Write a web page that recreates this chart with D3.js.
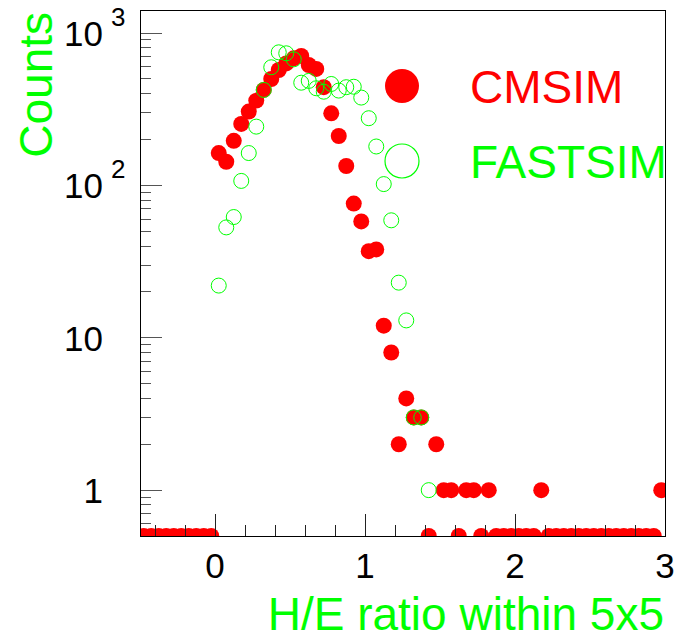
<!DOCTYPE html>
<html>
<head>
<meta charset="utf-8">
<script src="https://cdn.jsdelivr.net/npm/d3@7"></script>
<style>
  body { margin: 0; background: #fff; }
  text { font-family: "Liberation Sans", Arial, sans-serif; }
</style>
</head>
<body>
<script>
// histogram: 70 bins of 0.05 from -0.5 to 3.0
const binLow = -0.5;
const binWidth = 0.05;
const cmsimCounts = [
    0, 0, 0, 0, 0, 0, 0, 0, 0, 0,
    163, 143, 196, 253, 305, 360, 423, 499, 572, 632,
    682, 707, 617, 581, 441, 297, 211, 134, 76, 58,
    37, 38, 12, 8, 2, 4, 3, 3, 0, 2,
    1, 1, 0, 1, 1, 0, 1, 0, 0, 0,
    0, 0, 0, 1, 0, 0, 0, 0, 0, 0,
    0, 0, 0, 0, 0, 0, 0, 0, 0, 1
];
const fastsimCounts = [
    0, 0, 0, 0, 0, 0, 0, 0, 0, 0,
    22, 53, 62, 107, 163, 243, 423, 596, 747, 736,
    672, 472, 485, 434, 412, 463, 419, 441, 444, 377,
    276, 180, 102, 59, 23, 13, 3, 3, 1, 0,
    0, 0, 0, 0, 0, 0, 0, 0, 0, 0,
    0, 0, 0, 0, 0, 0, 0, 0, 0, 0,
    0, 0, 0, 0, 0, 0, 0, 0, 0, 0
];
const xMajorTicks = [0, 1, 2, 3];
const yMajorTicks = [1, 10, 100, 1000];
const yTickLabels = [["1", ""], ["10", ""], ["10", "2"], ["10", "3"]];
const seriesNames = ["CMSIM", "FASTSIM"];

const padL = 140, padR = 665, padT = 10, padB = 536;

let svg = d3.select("body")
    .append("svg")
    .attr("width", 683)
    .attr("height", 634)

let x = d3.scaleLinear().domain([-0.5, 3]).range([padL, padR]);
let y = d3.scaleLog().domain([0.5, 1416]).range([padB, padT]);

svg.append("clipPath")
    .attr("id", "frame")
    .append("rect")
    .attr("x", padL)
    .attr("y", padT)
    .attr("width", padR - padL)
    .attr("height", padB - padT)

const toPoints = (counts) => counts.map((v, i) => ({x: binLow + binWidth * (i + 0.5), v: v}));

// cmsim draws its empty bins on the floor, fastsim skips them
let plot = svg.append("g").attr("clip-path", "url(#frame)");
plot.selectAll(".cmsim")
    .data(toPoints(cmsimCounts))
    .enter()
    .append("circle")
    .attr("class", "cmsim")
    .attr("cx", d => x(d.x))
    .attr("cy", d => y(Math.max(d.v, 0.5)))
    .attr("r", 8)
    .attr("fill", "#ff0000")

plot.selectAll(".fastsim")
    .data(toPoints(fastsimCounts).filter(d => d.v > 0))
    .enter()
    .append("circle")
    .attr("class", "fastsim")
    .attr("cx", d => x(d.x))
    .attr("cy", d => y(d.v))
    .attr("r", 7.5)
    .attr("fill", "none")
    .attr("stroke", "#00ff00")
    .attr("stroke-width", 1)

// ticks
let ticks = svg.append("g")
    .attr("stroke", "#222")
    .attr("stroke-width", 1)
    .attr("shape-rendering", "crispEdges")

let xMinor = d3.range(-2, 16).map(i => i * 0.2).filter(t => t > -0.5 && Math.abs(t - Math.round(t)) > 1e-6);
ticks.selectAll(".xminor")
    .data(xMinor)
    .enter()
    .append("line")
    .attr("x1", d => x(d)).attr("x2", d => x(d))
    .attr("y1", padB).attr("y2", padB - 11)
ticks.selectAll(".xmajor")
    .data(xMajorTicks)
    .enter()
    .append("line")
    .attr("x1", d => x(d)).attr("x2", d => x(d))
    .attr("y1", padB).attr("y2", padB - 22)

let yMinor = [];
[0.1, 1, 10, 100].forEach(dec => {
    for (let m = 2; m <= 9; m++) {
        let t = dec * m;
        if (t >= 0.5 && t <= 1416) yMinor.push(t);
    }
});
ticks.selectAll(".yminor")
    .data(yMinor)
    .enter()
    .append("line")
    .attr("x1", padL).attr("x2", padL + 11)
    .attr("y1", d => y(d)).attr("y2", d => y(d))
    .attr("stroke", "#555")
ticks.selectAll(".ymajor")
    .data(yMajorTicks)
    .enter()
    .append("line")
    .attr("x1", padL).attr("x2", padL + 22)
    .attr("y1", d => y(d)).attr("y2", d => y(d))
    .attr("stroke", "#555")

// frame
svg.append("rect")
    .attr("x", padL)
    .attr("y", padT)
    .attr("width", padR - padL)
    .attr("height", padB - padT)
    .attr("fill", "none")
    .attr("stroke", "#000")
    .attr("stroke-width", 1)
    .attr("shape-rendering", "crispEdges")

// tick labels
svg.selectAll(".xlabel")
    .data(xMajorTicks)
    .enter()
    .append("text")
    .attr("x", d => x(d))
    .attr("y", 578)
    .attr("text-anchor", "middle")
    .attr("font-size", "35px")
    .text(d => d)

let ylab = svg.selectAll(".ylabel")
    .data(yMajorTicks)
    .enter()
    .append("g")
ylab.append("text")
    .attr("x", 103)
    .attr("y", d => y(d) + 13)
    .attr("text-anchor", "end")
    .attr("font-size", "35px")
    .text((d, i) => yTickLabels[i][0])
ylab.append("text")
    .attr("x", 111)
    .attr("y", d => y(d) - 7)
    .attr("font-size", "26px")
    .text((d, i) => yTickLabels[i][1])

// axis titles
svg.append("text")
    .attr("transform", "translate(51.5, 12) rotate(-90)")
    .attr("text-anchor", "end")
    .attr("font-size", "46px")
    .attr("fill", "#00ff00")
    .text("Counts")

svg.append("text")
    .attr("x", 664)
    .attr("y", 630)
    .attr("text-anchor", "end")
    .attr("font-size", "46px")
    .attr("fill", "#00ff00")
    .text("H/E ratio within 5x5")

// legend
svg.append("circle")
    .attr("cx", 402).attr("cy", 86).attr("r", 17)
    .attr("fill", "#ff0000")
svg.append("circle")
    .attr("cx", 402).attr("cy", 161).attr("r", 17)
    .attr("fill", "none")
    .attr("stroke", "#00ff00")
    .attr("stroke-width", 1.2)

svg.append("text")
    .attr("x", 470).attr("y", 102.5)
    .attr("font-size", "46px")
    .attr("fill", "#ff0000")
    .text(seriesNames[0])
svg.append("text")
    .attr("x", 470).attr("y", 177.5)
    .attr("font-size", "46px")
    .attr("fill", "#00ff00")
    .text(seriesNames[1])
</script>
</body>
</html>
